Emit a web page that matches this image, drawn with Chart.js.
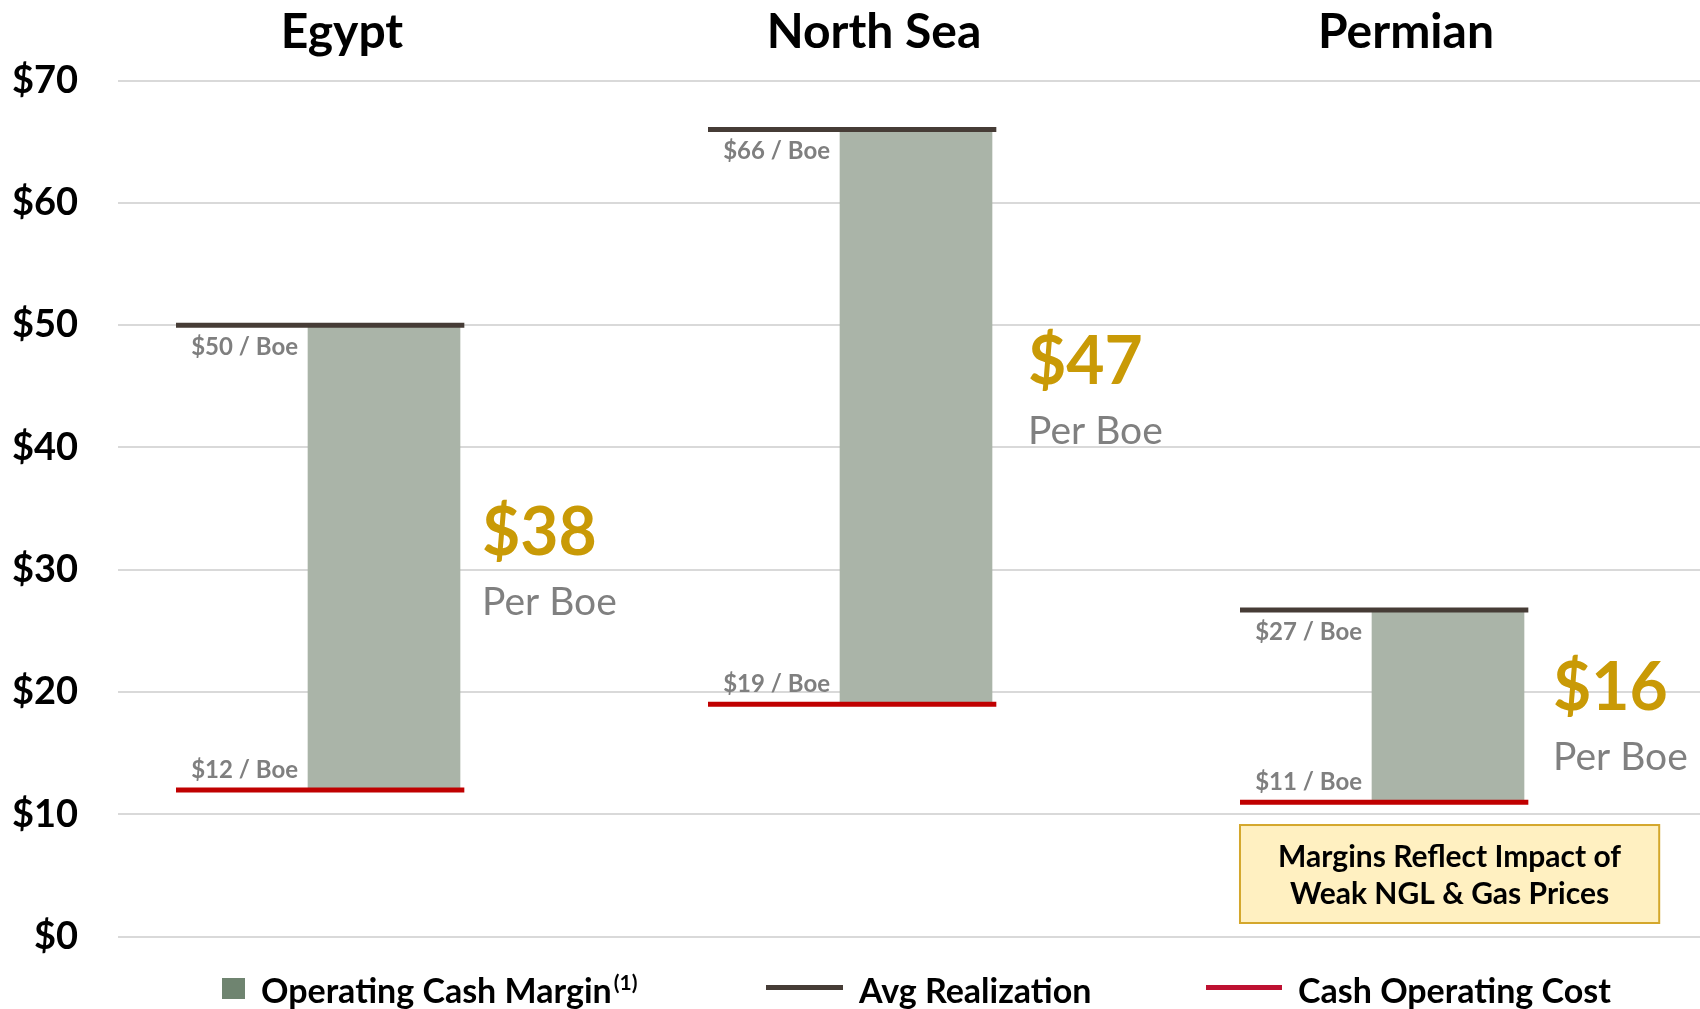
<!DOCTYPE html>
<html>
<head>
<meta charset="utf-8">
<script src="https://cdn.jsdelivr.net/npm/chart.js@4.4.1/dist/chart.umd.min.js"></script>
<style>
html,body{margin:0;padding:0;background:#fff;overflow:hidden;}
#wrap{width:1700px;height:1009px;position:relative;overflow:hidden;}
#c{position:absolute;left:0;top:0;}
</style>
</head>
<body>
<div id="wrap"><canvas id="c" width="1714" height="1009"></canvas></div>
<script>
// ---------------- data ----------------
const regions = ['Egypt', 'North Sea', 'Permian'];
const avgRealization = [50, 66, 26.7];
const cashOperatingCost = [12, 19, 11];
const yTickValues = [0, 10, 20, 30, 40, 50, 60, 70];
const seriesNames = ['Operating Cash Margin', 'Avg Realization', 'Cash Operating Cost'];
const noteLines = ['Margins Reflect Impact of', 'Weak NGL & Gas Prices'];

// ---------------- styling ----------------
const FONT = "Lato, 'Noto Sans', sans-serif";
const COL_BAR = '#AAB4A8';
const COL_BAR_LEGEND = '#6F8470';
const COL_REAL = '#463C36';
const COL_COST = '#C00000';
const COL_COST_LEGEND = '#BE1131';
const COL_GOLD = '#C99A06';
const COL_GREY = '#7F7F7F';

const marginRanges = regions.map((_, i) => [cashOperatingCost[i], avgRealization[i]]);

// horizontal segment per category on the hidden linear axis (0..3)
function segments(vals) {
  const out = [];
  vals.forEach((v, i) => {
    out.push({ x: i + 0.5 - 0.391, y: v }, { x: i + 0.5 + 0.151, y: v }, { x: i + 1, y: null });
  });
  return out;
}

const annotations = {
  id: 'annotations',
  afterDatasetsDraw(chart, args, opts) {
    const ctx = chart.ctx;
    const ys = chart.scales.y;
    const xl = chart.scales.xl;
    const bars = chart.getDatasetMeta(0).data;
    ctx.save();
    bars.forEach((bar, i) => {
      const p = bar.getProps(['x', 'width'], true);
      const left = p.x - p.width / 2;
      const right = p.x + p.width / 2;
      ctx.font = `bold 24px ${FONT}`;
      ctx.fillStyle = COL_GREY;
      ctx.textAlign = 'right';
      ctx.textBaseline = 'alphabetic';
      ctx.fillText(`$${Math.round(avgRealization[i])} / Boe`, left - 10, ys.getPixelForValue(avgRealization[i]) + 30);
      ctx.fillText(`$${Math.round(cashOperatingCost[i])} / Boe`, left - 10, ys.getPixelForValue(cashOperatingCost[i]) - 12);

      const m = Math.round(avgRealization[i] - cashOperatingCost[i]);
      const bx = right + opts.bigDx[i];
      const by = ys.getPixelForValue(opts.bigAt[i]);
      ctx.textAlign = 'left';
      ctx.font = `bold 66px ${FONT}`;
      ctx.fillStyle = COL_GOLD;
      ctx.fillText('$' + m, bx, by);
      ctx.font = `39px ${FONT}`;
      ctx.fillStyle = '#808080';
      ctx.fillText('Per Boe', bx, by + 60);
    });

    // note box
    const nb = opts.note;
    const x0 = xl.getPixelForValue(nb.x0), x1 = xl.getPixelForValue(nb.x1);
    const y0 = ys.getPixelForValue(nb.y1), y1 = ys.getPixelForValue(nb.y0);
    ctx.fillStyle = '#FFF0C1';
    ctx.fillRect(x0, y0, x1 - x0, y1 - y0);
    ctx.strokeStyle = '#D4A72C';
    ctx.lineWidth = 2;
    ctx.strokeRect(x0, y0, x1 - x0, y1 - y0);
    ctx.fillStyle = '#000';
    ctx.font = `bold 30px ${FONT}`;
    ctx.textAlign = 'center';
    ctx.fillText(noteLines[0], (x0 + x1) / 2, y0 + 42);
    ctx.fillText(noteLines[1], (x0 + x1) / 2, y0 + 79);
    ctx.restore();
  }
};

const customLegend = {
  id: 'customLegend',
  afterDraw(chart, args, opts) {
    const ctx = chart.ctx;
    ctx.save();
    const yc = opts.yCenter, base = opts.baseline;
    const items = [
      { kind: 'rect', color: COL_BAR_LEGEND, w: 23, text: seriesNames[0], sup: '(1)' },
      { kind: 'line', color: COL_REAL, w: 77, text: seriesNames[1] },
      { kind: 'line', color: COL_COST_LEGEND, w: 76, text: seriesNames[2] }
    ];
    items.forEach((it, i) => {
      const x = opts.markX[i];
      ctx.fillStyle = it.color;
      if (it.kind === 'rect') ctx.fillRect(x, yc - 10, it.w, 21);
      else ctx.fillRect(x, yc - 3, it.w, 5);
      ctx.fillStyle = '#000';
      ctx.font = `bold 34px ${FONT}`;
      ctx.textAlign = 'left';
      ctx.textBaseline = 'alphabetic';
      const tx = x + it.w + 16;
      ctx.fillText(it.text, tx, base);
      if (it.sup) {
        const tw = ctx.measureText(it.text).width;
        ctx.font = `bold 21px ${FONT}`;
        ctx.fillText(it.sup, tx + tw + 2, base - 13);
      }
    });
    ctx.restore();
  }
};

new Chart(document.getElementById('c'), {
  data: {
    labels: regions,
    datasets: [
      {
        type: 'bar',
        label: seriesNames[0],
        data: marginRanges,
        backgroundColor: COL_BAR,
        borderWidth: 0,
        xAxisID: 'x',
        yAxisID: 'y',
        grouped: false,
        barThickness: 152,
        order: 3
      },
      {
        type: 'line',
        label: seriesNames[1],
        data: segments(avgRealization),
        borderColor: COL_REAL,
        borderWidth: 5,
        borderCapStyle: 'butt',
        pointRadius: 0,
        spanGaps: false,
        xAxisID: 'xl',
        yAxisID: 'y',
        order: 1
      },
      {
        type: 'line',
        label: seriesNames[2],
        data: segments(cashOperatingCost),
        borderColor: COL_COST,
        borderWidth: 5,
        borderCapStyle: 'butt',
        pointRadius: 0,
        spanGaps: false,
        xAxisID: 'xl',
        yAxisID: 'y',
        order: 2
      }
    ]
  },
  options: {
    responsive: false,
    animation: false,
    devicePixelRatio: 1,
    layout: { padding: { top: 0, left: 0, right: 0, bottom: 72.3 } },
    scales: {
      x: {
        type: 'category',
        position: 'top',
        grid: { display: false },
        border: { display: false },
        ticks: {
          font: { family: FONT, size: 48, weight: 'bold' },
          color: '#000',
          padding: 11,
          labelOffset: -42,
          maxRotation: 0,
          autoSkip: false
        },
        afterFit(s) { s.height = 80.5; }
      },
      xl: { type: 'linear', min: 0, max: 3, display: false },
      y: {
        min: 0,
        max: 70,
        afterBuildTicks(s) { s.ticks = yTickValues.map(v => ({ value: v })); },
        ticks: {
          callback: v => '$' + v,
          font: { family: FONT, size: 38, weight: 'bold' },
          color: '#000',
          padding: 40
        },
        grid: { color: '#D9D9D9', lineWidth: 2, drawTicks: false },
        border: { display: false },
        afterFit(s) { s.width = 118; }
      }
    },
    plugins: {
      legend: { display: false },
      tooltip: { enabled: false },
      annotations: {
        bigAt: [31.2, 45.2, 18.5],
        bigDx: [22, 36, 29],
        note: { x0: 2.109, x1: 2.897, y0: 1.12, y1: 9.13 }
      },
      customLegend: { markX: [222, 766, 1206], yCenter: 988, baseline: 1003 }
    }
  },
  plugins: [annotations, customLegend]
});
</script>
</body>
</html>
